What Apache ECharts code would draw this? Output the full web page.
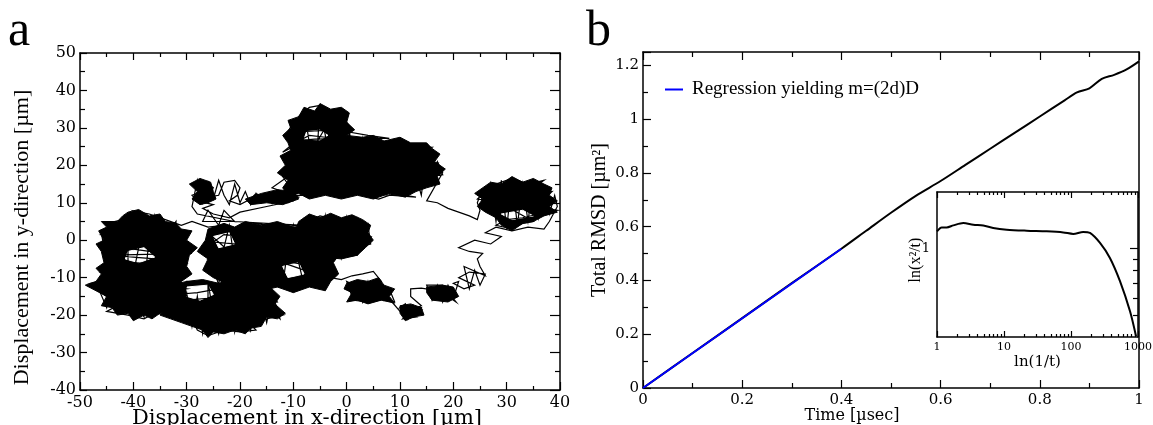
<!DOCTYPE html>
<html><head><meta charset="utf-8">
<script src="https://cdn.jsdelivr.net/npm/echarts@6/dist/echarts.min.js"></script>
<style>html,body{margin:0;padding:0;background:#fff}#c{width:1153px;height:425px}</style>
</head><body><div id="c"></div>
<script>
// ---------- panel a : trajectory (x, y in µm), traced cluster by cluster ----------
const walkMidUpper = [[0,0],[-3,1],[-6,2.5],[-8,4.5],[-5,6.5],[-2,5.5],[1,6.2],[3,5],[0,4],[-3,3.5],[-6,3],[-8.5,1.5],[-4,1],[-1,2],[2,2.5],[4.5,1],[1,0],[-2,-0.5],[-5,-0.5],[-7,-2],[-3,-2.5],[0,-2],[3,-1.5],[2,-4],[-1,-4.5],[-4,-4],[-7,-5]];
const walkMidUpperV = [[-8,6],[-7,-3],[-6,5.5],[-5,-4],[-4,6.5],[-3,-3],[-2,5],[-1,-4.5],[0,6],[1,-3],[2,5.5],[3,-2],[4,4],[4.5,-1],[-2,-3]];
const walkMiddle = [[-10,-4],[-13,-2],[-16,-3.5],[-12,-6],[-8,-8],[-5,-9],[-9,-10],[-13,-10.5],[-17,-10],[-21,-11],[-19,-12.5],[-15,-12],[-11,-12.8],[-7,-11.5],[-4,-12],[-3,-10],[-6,-7],[-10,-6],[-14,-5.5],[-18,-5],[-22,-6],[-26,-5],[-24,-3.5],[-20,-3],[-16,-1.5],[-12,-3],[-8,-4],[-4,-3.5],[-2,-5],[-5,-1.5],[-9,-1],[-13,-1.5],[-17,-0.5],[-21,-1],[-25,-0.5],[-23,1.5],[-19,1],[-15,2],[-11,1.5],[-7,2.5],[-9,4],[-13,3.5],[-17,4.5],[-20,3],[-23,4],[-26,3.5],[-29,5],[-31,4]];
const walkLeftUpper = [[-34,5.5],[-37,7],[-40,7.8],[-38,6],[-42,5.5],[-45,4.5],[-41,4],[-37,4.6],[-34,3.5],[-31,2.8],[-36,2.5],[-40,3],[-44,2.5],[-46,1.5],[-42,1],[-38,1.8],[-34,0.5],[-31,1],[-30,-1],[-35,-1.2],[-39,-0.5],[-43,-1],[-45,-2.5],[-41,-2.2],[-37,-3],[-33,-2.5],[-29,-3.5]];
const walkLeftLower = [[-44,-4],[-40,-4.5],[-36,-5],[-32,-4.5],[-30,-6],[-35,-6.5],[-40,-6],[-44,-7],[-46,-8.5],[-42,-8],[-38,-8.5],[-34,-8],[-30,-9],[-33,-10],[-38,-10.5],[-43,-10],[-48,-11.5],[-45,-12],[-41,-12.5],[-37,-12],[-33,-12.5],[-30,-13],[-35,-14],[-40,-14],[-45,-14.5],[-47,-13],[-44,-16],[-40,-16.5],[-36,-16],[-32,-16.5],[-35,-18],[-39,-18.5],[-43,-17.5],[-45,-19],[-41,-20],[-38,-21],[-36,-19.5],[-33,-20]];
const walkLeftV = [[-46,2],[-45,-6],[-46.5,-13],[-45,-18],[-44,-10],[-44.5,-2],[-43,4],[-42,-5],[-43,-14],[-42,-19],[-41,-12],[-41,-3],[-40,6],[-39,-2],[-40,-9],[-39.5,-17],[-38,-20.5],[-38,-13],[-37.5,-6],[-37,1],[-36,6.5],[-35.5,-1],[-36,-8],[-35,-16],[-34,-19.5],[-34,-11],[-33,-4],[-33,3],[-32,5],[-32,-2],[-31.5,-9],[-31,-17],[-30,-12]];
const walkBottom = [[-30,-11],[-26,-11.5],[-22,-12],[-18,-11],[-15,-12.5],[-19,-13.5],[-24,-13],[-28,-14],[-32,-14.5],[-34,-16],[-30,-16],[-26,-15.5],[-22,-15],[-18,-15.5],[-14,-14.5],[-13,-16.5],[-17,-17],[-21,-17.5],[-25,-17],[-29,-18],[-32,-19],[-28,-20],[-24,-19.5],[-20,-19],[-16,-19.5],[-12,-20],[-15,-21],[-19,-21.5],[-23,-21],[-27,-22],[-30,-21.5],[-26,-23.5],[-22,-23],[-18,-22.5],[-17,-24],[-20,-24.5],[-23,-24],[-26,-25.5],[-28,-24]];
const walkBottomV = [[-32,-12],[-31,-20],[-30,-14],[-29,-23],[-28,-15],[-27,-25],[-26,-18],[-26,-11],[-25,-20],[-24,-25],[-23,-16],[-22,-11],[-21.5,-20],[-21,-24.5],[-20,-17],[-19,-11],[-18.5,-21],[-18,-24],[-17,-15],[-16,-11.5],[-15.5,-19],[-15,-22],[-14,-15],[-13,-18],[-12.5,-21],[-16,-16],[-22,-16],[-24,-12],[-21,-8],[-18,-7],[-22,-3]];
const walkMiddleV = [[-26,2],[-25,-7],[-24,-12],[-23,-2],[-22,4],[-21,-6],[-20,-12],[-19,-3],[-18,3],[-17,-7],[-16,-12.5],[-15,-4],[-14,3.5],[-13,-6],[-12,-12],[-11,-2],[-10,4],[-9,-6],[-8,-12],[-7,-3],[-6,3],[-5,-6],[-4,-12.5],[-3,-4],[-2,1]];
const walkLinks = [[-8,4],[-15,4.5],[-21,5],[-27,5],[-26,8],[-24,4],[-23,8],[-21,5],[-28,7]];
const walkArmV = [[-29,9],[-28,16],[-27,10],[-26,15.5],[-25,11],[-24,16],[-23,12],[-22,9.5],[-21,15],[-20,10],[-19,13],[-18,9.5],[-17,12.5],[-16,10],[-15,12],[-14,9.8],[-13,13],[-12,10],[-11,14],[-10,10.5],[-15,9],[-20,7.5]];
const walkArm = [[-22,6],[-25,7],[-27,8.5],[-25,9.5],[-28,10.5],[-29,12],[-27,13],[-29,15],[-27,16],[-25,14],[-26,11.5],[-24,12],[-23,15.5],[-21,16],[-20,14],[-20.5,12],[-22,10.5],[-20,9.5],[-18,11],[-17,12.5],[-15,11],[-13,12],[-11,10],[-9,11.5],[-12,13],[-14,14],[-12,16],[-10,18]];
const walkTop = [[-8,16],[-11,15],[-12,17],[-9,19],[-7,17.5],[-5,15],[-8,13.5],[-10,12],[-6,12],[-3,13.5],[-1,12],[2,13],[0,15],[-3,16.5],[-6,18.5],[-9,20],[-11,21.5],[-8,22],[-5,20.5],[-2,18.5],[1,17],[4,15],[6,13],[8,14.5],[5,16.5],[2,19],[-1,21],[-4,23],[-7,24.5],[-10,25],[-12,23.5],[-9,27],[-11,29],[-10,31.5],[-8,30],[-9,33],[-7,35.5],[-5,36],[-3,34.5],[-1,35],[-2,33],[0,31.5],[1,29.5],[-1,28],[-4,27.5],[-7,28],[-9,26.5],[-6,25.5],[-3,26],[0,25],[3,26.5],[6,25.5],[9,26],[12,25],[15,24],[16,22],[13,22.5],[10,23.5],[7,22],[4,23],[1,22.5],[-2,21.5],[-5,22.5],[-7,20.5],[-4,19.5],[-1,18],[2,20],[5,19],[8,20],[11,21],[14,20],[17,19.5],[18,17.5],[15,17],[12,18],[9,17.5],[6,17],[3,15.5],[0,14],[3,12],[6,11],[9,12.5],[12,14],[15,15],[13,16],[10,15.5],[8,13],[11,12],[13,11.5]];
const walkTopH = [[-10,14],[-4,14.8],[2,14],[10,14.2],[12,15.8],[4,16.3],[-3,15.5],[-9,16],[-11,18.5],[-4,18],[3,18.6],[9,19],[15,18.8],[17,20.5],[10,20.2],[3,21],[-4,20.8],[-8,21],[-11,23],[-5,23.8],[2,24],[8,23],[14,23.2],[16,24.8],[9,25],[3,25.3],[-4,25],[-10,26.5],[-6,27],[2,27.2],[8,27.2],[4,28],[-2,29.5],[-8,29],[-6,31],[-2,31],[-6,33],[-3,32.5]];
const walkTopV = [[-11,13],[-10,28],[-9,14],[-8,35],[-7,26],[-6,13],[-5,36],[-4,28],[-3,12],[-2,34],[-1,22],[0,12.5],[0.5,30],[1,20],[2,13],[3,27],[4,18],[5,12],[6,26],[7,15],[8,12.5],[9,26],[10,16],[11,13],[12,25],[13,17],[14,12],[15,23],[16,17],[17,21],[18,18]];
const walkTrail = [[15,10.5],[17,10],[19,8.5],[21,7.5],[23,6.5],[24.5,5.5],[25,8],[24.5,10]];
const walkRight = [[25,12],[28,15],[31,16.5],[34,15],[37,16],[35,14],[32,14.5],[29,13.5],[26,13],[24.5,11],[27,10.5],[30,12],[33,12.5],[36,12.5],[38.5,13],[37,11],[34,10.5],[31,10],[28,9],[26,8],[29,7.5],[32,8.5],[35,9],[39.5,8],[36,7],[33,6],[30,5.5],[28,4],[31,3],[33,4.5],[35,5]];
const walkRightV = [[25,13],[26,8],[27,15],[28,5],[29,16],[30,3],[31,16.5],[32,4],[33,15],[34,5],[35,15.5],[36,6],[37,14],[38,7],[39,12],[39.5,9]];
const walkDown = [[38,5],[37,3],[34,3.5],[31,2.5],[28,3.5],[26,2],[29,1],[27,-1],[24,0],[21,-2],[23,-3],[25.5,-3.5],[24.5,-5],[25,-7],[26,-9.5],[22,-7],[23,-13],[24,-8],[25,-12],[26,-9],[23,-8.5],[21,-10],[24,-12],[22,-13],[20,-11.5],[21,-11],[20,-15.5],[19,-12],[18,-16.5],[17,-12],[16,-16],[15,-12],[18,-12],[20.5,-16.5],[19,-15],[16,-15.5],[17,-13.5],[14,-12.8],[12,-13],[12,-15],[14,-17.5],[12,-19],[10.5,-21],[13,-20.5],[11,-19.5],[14,-18.5],[12,-17.5],[10,-18],[11,-17],[11.5,-21],[12.5,-17.5],[13,-20],[14,-18],[10,-19],[8.5,-16.5],[9,-16.5],[8,-13],[7,-16],[6,-12],[5,-15.5],[4,-11],[3,-16.5],[2,-12],[1,-15],[0,-11],[7,-15.8],[4,-16.5],[1,-16],[2,-14.5],[5,-15],[8,-14],[6,-12.5],[3,-13.5],[0,-13],[1,-11.5],[4,-12],[6.5,-11],[5,-8.3],[3,-9],[1,-9.5],[-1,-10.5],[-3,-10]];

// densely revisited regions of the walk (ragged outlines, µm) and the gaps left inside them
const denseLeft = [[-41,7.5],[-39,8.2],[-37,6.5],[-35,7],[-34,5],[-32,4.5],[-31,3],[-29,2.5],[-30,0],[-28,-2],[-29.5,-4],[-30,-7],[-29,-9],[-31,-11],[-30.5,-14],[-32,-16],[-33,-19],[-35,-19.5],[-36.5,-21],[-38,-20],[-40,-21.5],[-41,-19.5],[-43,-20],[-44,-18],[-46,-17.5],[-45,-15],[-47,-13.5],[-49,-12],[-47,-11],[-46,-9],[-47,-7.5],[-45.5,-6],[-46,-3],[-47,-1],[-45.5,0],[-46.5,2.5],[-45,3.5],[-46,5],[-43,5],[-42,6.5]];
const denseBottom = [[-33,-12],[-30,-11],[-27,-10.5],[-24,-11.5],[-21,-10.5],[-18,-11.5],[-15,-11],[-14,-13],[-12.5,-15],[-13.5,-17],[-11.5,-19.5],[-13,-21],[-15,-20.5],[-16,-23],[-18,-23.5],[-19,-25],[-21,-24],[-23,-25],[-25,-24.5],[-26,-26],[-27,-24],[-29,-23],[-31,-22],[-33,-21],[-35,-20],[-33.5,-18],[-34.5,-16],[-33,-14.5]];
const denseMiddle = [[-26,3],[-23,4.5],[-21,3.5],[-19,5],[-16,4],[-13,5],[-10,3.5],[-7,4],[-4,2],[-2,0],[-1,-3],[-2.5,-6],[-1.5,-9],[-3,-11],[-4,-13.5],[-7,-12.5],[-10,-14],[-13,-12.5],[-16,-13.5],[-19,-12],[-22,-12],[-25,-10],[-27,-8],[-26,-5],[-28,-3],[-26.5,0]];
const denseMidUpper = [[-9,5],[-7,7],[-5,6],[-3,7.2],[-1,6],[1,6.8],[3,5.5],[4.5,4],[4,2],[5,0],[3.5,-2],[2,-4],[-1,-5],[-4,-4.5],[-7,-5],[-9,-3],[-10,0],[-9.5,3]];
const denseTop = [[-9,33],[-8,35.5],[-6,34.5],[-5,36.5],[-3,35],[-1,35.5],[0.5,34],[0,31.5],[1.5,29.5],[0,28],[3,27.5],[5,28],[7,26.5],[10,27.5],[12,26],[15,26],[16,24.5],[17.5,23],[16.5,21],[18.5,19],[17,17],[17.5,15],[15,14],[13,13],[11,11.5],[8,12.5],[5,11],[2,12],[-1,11],[-4,12],[-7,11],[-9,12.5],[-11,12],[-12,14],[-11,16],[-13,18],[-11.5,20],[-12.5,22.5],[-10.5,24],[-11,26],[-12,28],[-10.5,30],[-11,32]];
const denseRight = [[25,13.5],[27,15.5],[29,15],[31,17],[33,15.5],[35,16.5],[37,15],[38.5,14],[38,12],[39.5,10.5],[38,9],[39.5,7.5],[37,6.5],[35,5],[33,4.5],[31,2.5],[29,4],[28,6],[26,7.5],[24.5,9],[25.5,11],[24,12.5]];
const denseArmLeft = [[-29,11],[-28,13],[-29.5,15],[-27.5,16.5],[-25.5,15.5],[-25,13],[-24.5,11],[-26,10],[-27.5,9.5]];
const denseArmRight = [[-19,11],[-16,12.5],[-13,13.5],[-10,13],[-9,11],[-12,9.5],[-15,10],[-18,9.5]];
const denseLowRight1 = [[0,-11.5],[2,-10.5],[4,-11],[6,-10],[7,-12],[9,-13],[8,-15],[9,-16.8],[6.5,-16],[4,-17],[2,-16],[0,-16.5],[1,-14],[-0.5,-13]];
const denseLowRight2 = [[10,-17.5],[12,-17],[14,-18],[14.5,-20],[12.5,-20.5],[11,-21.5],[10,-19.5]];
const denseLowRight3 = [[15,-12.5],[18,-12],[20,-12.5],[21,-15],[19,-16.5],[16,-16],[15,-14]];
const gapLeft = [[-41,-3],[-38,-2],[-36,-4.5],[-39,-6],[-41.5,-5]];
const gapBottom = [[-30,-12.5],[-26,-12],[-25,-14.5],[-27.5,-16],[-30,-15]];
const gapMiddle1 = [[-25,1],[-22,2],[-21,-1],[-24,-2]];
const gapMiddle2 = [[-12,-7],[-9,-6],[-8,-9],[-11,-10]];
const gapTop = [[-8,27],[-5,26.8],[-3.5,28],[-5,29.4],[-7.5,29]];
const gapRight = [[29,7],[33,8],[35,6.5],[31,5.5]];

// ---------- panel b : RMSD vs time ----------
const timeVals = [0,0.1,0.2,0.3,0.4,0.45,0.5,0.55,0.6,0.65,0.7,0.75,0.8,0.85,0.875,0.9,0.925,0.95,0.975,1.0];
const rmsdVals = [0,0.13,0.26,0.39,0.518,0.585,0.652,0.715,0.77,0.83,0.89,0.95,1.01,1.07,1.10,1.115,1.15,1.165,1.185,1.215];
const regTime = [0,0.4];
const regVals = [0,0.518];
const regName = 'Regression yielding m=(2d)D';

// ---------- inset : log-log ----------
const insetX = [1,1.175,1.395,1.75,2.47,3.48,4.9,6.9,10.98,21.8,43.3,76.6,108,152,192,271,381,540,760,935];
const insetY = [1.197,1.247,1.247,1.273,1.305,1.283,1.273,1.24,1.218,1.205,1.197,1.184,1.165,1.19,1.177,1.061,0.908,0.712,0.522,0.403];
const insetMinorX = [2,3,4,5,6,7,8,9,20,30,40,50,60,70,80,90,200,300,400,500,600,700,800,900];
const insetMajorY = [1];
const insetMinorY = [0.5,0.6,0.7,0.8,0.9];

const walk = [].concat(walkMidUpper, walkMidUpperV, walkMiddle, walkLeftUpper, walkLeftLower, walkLeftV,
  walkBottom, walkBottomV, walkMiddleV, walkLinks, walkArmV, walkArm, walkTop, walkTopH, walkTopV,
  walkTrail, walkRight, walkRightV, walkDown);
const dense = [denseLeft, denseBottom, denseMiddle, denseMidUpper, denseTop, denseRight, denseArmLeft, denseArmRight, denseLowRight1, denseLowRight2, denseLowRight3];
const gaps = [gapLeft, gapBottom, gapMiddle1, gapMiddle2, gapTop, gapRight];
const zip = (a, b) => a.map((v, i) => [v, b[i]]);

const K = '#000';
const ticks = (len, show = true) => ({show, inside: true, length: len, lineStyle: {color: K, width: 1.2}});
const minor = (len, n) => ({show: true, splitNumber: n, length: len, lineStyle: {color: K, width: 1.2}});
const line = {show: true, onZero: false, lineStyle: {color: K, width: 1.5}};
const hiddenLine = {show: false, onZero: false};
const noLabel = {show: false};
const noSplit = {show: false};
const lg = Math.log10;
const polySeries = (name, polys, fill, z) => ({
  type: 'custom', name, xAxisIndex: 0, yAxisIndex: 0, silent: true, clip: true, z,
  data: polys.map(p => p[0]),
  renderItem: (params, api) => ({
    type: 'polygon',
    shape: {points: polys[params.dataIndex].map(p => api.coord(p))},
    style: {fill, stroke: fill, lineWidth: 1, lineJoin: 'miter'}
  })
});

const chart = echarts.init(document.getElementById('c'), null, {renderer: 'canvas'});
chart.setOption({
  animation: false,
  backgroundColor: '#fff',
  title: [
    {text: 'a', left: 8, top: 7, padding: 0, textStyle: {fontFamily: 'Liberation Serif', fontSize: 50, fontWeight: 'normal', color: K}},
    {text: 'b', left: 586, top: 7, padding: 0, textStyle: {fontFamily: 'Liberation Serif', fontSize: 50, fontWeight: 'normal', color: K}}
  ],
  legend: {
    data: [regName], left: 665, top: 80, padding: 0, icon: 'rect', itemWidth: 18, itemHeight: 2,
    textStyle: {fontFamily: 'Liberation Serif', fontSize: 19, color: K, padding: [0, 0, 0, 4]}
  },
  grid: [
    {left: 80, top: 53, width: 480, height: 337, outerBoundsMode: 'none'},
    {left: 643, top: 52, width: 496, height: 336, outerBoundsMode: 'none'},
    {left: 937, top: 192, width: 201, height: 145, outerBoundsMode: 'none'}
  ],
  xAxis: [
    {gridIndex: 0, type: 'value', position: 'bottom', min: -50, max: 40, interval: 10, axisLine: line,
     axisTick: ticks(8), minorTick: minor(4, 2), splitLine: noSplit,
     axisLabel: {color: K, fontFamily: 'DejaVu Serif', fontSize: 16, margin: 5},
     name: 'Displacement in x-direction [µm]', nameLocation: 'middle', nameGap: 18, nameMoveOverlap: false,
     nameTextStyle: {color: K, fontFamily: 'DejaVu Serif', fontSize: 21, padding: [0, 26, 0, 0]}},
    {gridIndex: 0, type: 'value', position: 'top', min: -50, max: 40, interval: 10, axisLine: line,
     axisTick: ticks(7), minorTick: minor(4, 2), splitLine: noSplit, axisLabel: noLabel},
    {gridIndex: 1, type: 'value', position: 'bottom', min: 0, max: 1, interval: 0.2, axisLine: line,
     axisTick: ticks(8), minorTick: minor(5, 2), splitLine: noSplit,
     axisLabel: {color: K, fontFamily: 'DejaVu Serif', fontSize: 15, margin: 5},
     name: 'Time [µsec]', nameLocation: 'middle', nameGap: 20, nameMoveOverlap: false,
     nameTextStyle: {color: K, fontFamily: 'DejaVu Serif', fontSize: 16, padding: [0, 78, 0, 0]}},
    {gridIndex: 1, type: 'value', position: 'top', min: 0, max: 1, interval: 0.2, axisLine: line,
     axisTick: ticks(8), minorTick: minor(5, 2), splitLine: noSplit, axisLabel: noLabel},
    {gridIndex: 2, type: 'log', logBase: 10, position: 'bottom', min: 1, max: 1000, axisLine: line,
     axisTick: ticks(6), splitLine: noSplit,
     axisLabel: {color: K, fontFamily: 'DejaVu Serif', fontSize: 11, margin: 5, formatter: v => String(Math.round(v))},
     name: 'ln(1/t)', nameLocation: 'middle', nameGap: 18, nameMoveOverlap: false,
     nameTextStyle: {color: K, fontFamily: 'DejaVu Serif', fontSize: 15}},
    {gridIndex: 2, type: 'log', logBase: 10, position: 'top', min: 1, max: 1000, axisLine: line,
     axisTick: ticks(6), splitLine: noSplit, axisLabel: noLabel},
    {gridIndex: 2, type: 'value', position: 'bottom', min: 0, max: 3, axisLine: hiddenLine,
     axisTick: Object.assign(ticks(3), {customValues: insetMinorX.map(lg)}), splitLine: noSplit, axisLabel: noLabel},
    {gridIndex: 2, type: 'value', position: 'top', min: 0, max: 3, axisLine: hiddenLine,
     axisTick: Object.assign(ticks(3), {customValues: insetMinorX.map(lg)}), splitLine: noSplit, axisLabel: noLabel}
  ],
  yAxis: [
    {gridIndex: 0, type: 'value', position: 'left', min: -40, max: 50, interval: 10, axisLine: line,
     axisTick: ticks(7), minorTick: minor(5, 2), splitLine: noSplit,
     axisLabel: {color: K, fontFamily: 'DejaVu Serif', fontSize: 16, margin: 4},
     name: 'Displacement in y-direction [µm]', nameLocation: 'middle', nameGap: 47, nameMoveOverlap: false,
     nameTextStyle: {color: K, fontFamily: 'Liberation Serif', fontSize: 22, padding: [0, 32, 0, 0]}},
    {gridIndex: 0, type: 'value', position: 'right', min: -40, max: 50, interval: 10, axisLine: line,
     axisTick: ticks(10), minorTick: minor(5, 2), splitLine: noSplit, axisLabel: noLabel},
    {gridIndex: 1, type: 'value', position: 'left', min: 0, max: 1.25, interval: 0.2, axisLine: line,
     axisTick: ticks(8), minorTick: minor(5, 2), splitLine: noSplit,
     axisLabel: {color: K, fontFamily: 'DejaVu Serif', fontSize: 15, margin: 4, showMaxLabel: false},
     name: 'Total RMSD [µm²]', nameLocation: 'middle', nameGap: 33, nameMoveOverlap: false,
     nameTextStyle: {color: K, fontFamily: 'Liberation Serif', fontSize: 20}},
    {gridIndex: 1, type: 'value', position: 'right', min: 0, max: 1.25, interval: 0.2, axisLine: line,
     axisTick: {show: false}, splitLine: noSplit, axisLabel: noLabel},
    {gridIndex: 2, type: 'log', logBase: 10, position: 'left', min: 0.4, max: 1.8, axisLine: line,
     axisTick: {show: false}, splitLine: noSplit, axisLabel: noLabel},
    {gridIndex: 2, type: 'value', position: 'left', min: lg(0.4), max: lg(1.8), axisLine: hiddenLine,
     axisTick: {show: false}, splitLine: noSplit,
     axisLabel: {color: K, fontFamily: 'DejaVu Serif', fontSize: 13, margin: 7, customValues: insetMajorY.map(lg), formatter: v => String(Math.round(Math.pow(10, v)))},
     name: 'ln(x²/t)', nameLocation: 'middle', nameGap: 13, nameMoveOverlap: false,
     nameTextStyle: {color: K, fontFamily: 'Liberation Serif', fontSize: 16, padding: [0, 0, 0, 9]}},
    {gridIndex: 2, type: 'value', position: 'right', min: lg(0.4), max: lg(1.8), axisLine: line,
     axisTick: Object.assign(ticks(8), {customValues: insetMajorY.map(lg)}), splitLine: noSplit, axisLabel: noLabel},
    {gridIndex: 2, type: 'value', position: 'right', min: lg(0.4), max: lg(1.8), axisLine: hiddenLine,
     axisTick: Object.assign(ticks(5), {customValues: insetMinorY.map(lg)}), splitLine: noSplit, axisLabel: noLabel}
  ],
  series: [
    polySeries('dense', dense, K, 1),
    polySeries('gaps', gaps, '#fff', 1.5),
    {type: 'line', name: 'walk', xAxisIndex: 0, yAxisIndex: 0, data: walk, showSymbol: false, symbol: 'none', silent: true, z: 2,
     lineStyle: {color: K, width: 1.2, join: 'miter', miterLimit: 8}, itemStyle: {color: K}},
    {type: 'line', name: 'rmsd', xAxisIndex: 2, yAxisIndex: 2, data: zip(timeVals, rmsdVals), showSymbol: false, symbol: 'none', smooth: 0.3,
     lineStyle: {color: K, width: 2}, itemStyle: {color: K}},
    {type: 'line', name: regName, xAxisIndex: 2, yAxisIndex: 2, data: zip(regTime, regVals), showSymbol: false, symbol: 'none',
     lineStyle: {color: '#0000ff', width: 2}, itemStyle: {color: '#0000ff'}},
    {type: 'line', name: 'inset', xAxisIndex: 4, yAxisIndex: 4, data: zip(insetX, insetY), showSymbol: false, symbol: 'none', smooth: 0.3,
     lineStyle: {color: K, width: 2}, itemStyle: {color: K}}
  ]
});
</script></body></html>
